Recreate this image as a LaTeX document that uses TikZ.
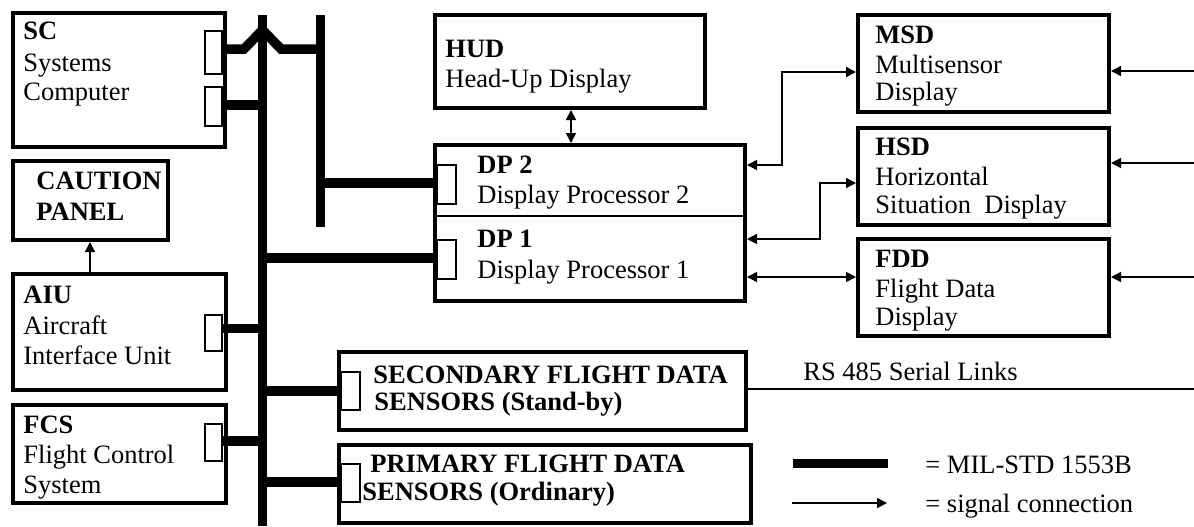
\documentclass[tikz,border=0pt]{standalone}
\usepackage{fontspec}
\setmainfont{Liberation Serif}
\usetikzlibrary{arrows.meta,fit,calc}
\begin{document}
\begin{tikzpicture}[x=0.5pt,y=-0.5pt,
  box/.style={draw, line width=2pt, inner sep=0pt, rectangle},
  port/.style={draw, line width=0.7pt, inner sep=0pt, rectangle},
  bus/.style={line width=4.75pt},
  thin/.style={line width=0.75pt},
  sig/.style={thin, -{Triangle[length=5pt,width=5pt]}},
  sigb/.style={thin, {Triangle[length=5pt,width=5pt]}-{Triangle[length=5pt,width=5pt]}},
  txt/.style={anchor=base west, inner sep=0pt, font=\fontsize{13.25pt}{15pt}\selectfont},
  btxt/.style={anchor=base west, inner sep=0pt, font=\fontsize{13.25pt}{15pt}\selectfont\bfseries}]
\useasboundingbox (0,0) rectangle (1194,526);

% boxes
\node[box, fit={(13,13) (225,147)}] (sc) {};
\node[box, fit={(13,161) (168,240)}] (caution) {};
\node[box, fit={(13,274) (226,390)}] (aiu) {};
\node[box, fit={(13,405) (226,503)}] (fcs) {};
\node[box, fit={(435,15) (705,108)}] (hud) {};
\node[box, fit={(435,145) (745,301)}] (dp) {};
\node[box, fit={(858,15) (1109,112)}] (msd) {};
\node[box, fit={(858,128) (1109,225)}] (hsd) {};
\node[box, fit={(858,239) (1109,336)}] (fdd) {};
\node[box, fit={(339,352) (746,430)}] (sec) {};
\node[box, fit={(339,445) (751,523)}] (pri) {};

% DP divider
\coordinate (dv) at (600,216);
\draw[thin] (dp.west |- dv) -- (dp.east |- dv);

% ports
\node[port, fit={(205,31) (222,74)}] (scp1) {};
\node[port, fit={(205,87) (222,126)}] (scp2) {};
\node[port, fit={(205,315) (222,351)}] (aiup) {};
\node[port, fit={(205,424) (222,461)}] (fcsp) {};
\node[port, fit={(437,165) (456,204)}] (dpp2) {};
\node[port, fit={(437,240) (456,279)}] (dpp1) {};
\node[port, fit={(341,372) (360,410)}] (secp) {};
\node[port, fit={(341,464) (360,502)}] (prip) {};

% buses
\coordinate (busT) at (262.5,15);
\coordinate (busB) at (262.5,526);
\coordinate (bus2T) at (320.5,15);
\coordinate (bus2B) at (320.5,227);
\draw[bus] (busT) -- (busB);
\draw[bus] (bus2T) -- (bus2B);

\coordinate (ca1) at (244,49);
\coordinate (ca2) at (262.5,30);
\coordinate (ca3) at (281,49);
\draw[bus, line join=miter] (scp1.east |- ca1) -- (ca1) -- (ca2) -- (ca3) -- (bus2T |- ca3);

\coordinate (jsc2) at (262.5,105);
\draw[bus] (scp2.east |- jsc2) -- (jsc2);
\coordinate (jaiu) at (262.5,328.5);
\draw[bus] (aiup.east |- jaiu) -- (jaiu);
\coordinate (jfcs) at (262.5,441);
\draw[bus] (fcsp.east |- jfcs) -- (jfcs);
\coordinate (jdp2) at (320.5,183);
\draw[bus] (jdp2) -- (dpp2.west |- jdp2);
\coordinate (jdp1) at (262.5,258);
\draw[bus] (jdp1) -- (dpp1.west |- jdp1);
\coordinate (jsec) at (262.5,391);
\draw[bus] (jsec) -- (secp.west |- jsec);
\coordinate (jpri) at (262.5,482);
\draw[bus] (jpri) -- (prip.west |- jpri);

% signal connections
\coordinate (cax) at (90,0);
\draw[sig] (aiu.north -| cax) -- (caution.south -| cax);
\coordinate (hdx) at (571,0);
\draw[sigb] (hud.south -| hdx) -- (dp.north -| hdx);
\coordinate (m1) at (782,165);
\coordinate (m2) at (782,72);
\draw[sigb] (dp.east |- m1) -- (m1) -- (m2) -- (msd.west |- m2);
\coordinate (h1) at (820,239);
\coordinate (h2) at (820,183);
\draw[sigb] (dp.east |- h1) -- (h1) -- (h2) -- (hsd.west |- h2);
\coordinate (f1) at (800,277);
\draw[sigb] (dp.east |- f1) -- (fdd.west |- f1);

\coordinate (rm) at (1194,71);
\coordinate (rh) at (1194,163);
\coordinate (rf) at (1194,277);
\draw[sig] (rm) -- (msd.east |- rm);
\draw[sig] (rh) -- (hsd.east |- rh);
\draw[sig] (rf) -- (fdd.east |- rf);

\coordinate (rs) at (1194,389);
\draw[thin] (sec.east |- rs) -- (rs);

% legend
\coordinate (lg1) at (793,463.5);
\coordinate (lg2) at (888,463.5);
\draw[line width=4.5pt] (lg1) -- (lg2);
\coordinate (lg3) at (792,503);
\coordinate (lg4) at (887,503);
\draw[sig] (lg3) -- (lg4);

% texts
\node[btxt] (t-sc1) at (23,39) {SC};
\node[txt] (t-sc2) at (23,71) {Systems};
\node[txt] (t-sc3) at (23,100) {Computer};
\node[btxt] (t-ca1) at (36,189) {CAUTION};
\node[btxt] (t-ca2) at (36,220) {PANEL};
\node[btxt] (t-aiu1) at (23,303) {AIU};
\node[txt] (t-aiu2) at (23,334) {Aircraft};
\node[txt] (t-aiu3) at (23,364) {Interface Unit};
\node[btxt] (t-fcs1) at (23,433) {FCS};
\node[txt] (t-fcs2) at (23,463) {Flight Control};
\node[txt] (t-fcs3) at (23,493) {System};
\node[btxt] (t-hud1) at (445,57) {HUD};
\node[txt] (t-hud2) at (445,87) {Head-Up Display};
\node[btxt] (t-dp21) at (477,173) {DP 2};
\node[txt] (t-dp22) at (477,203) {Display Processor 2};
\node[btxt] (t-dp11) at (477,247) {DP 1};
\node[txt] (t-dp12) at (477,278) {Display Processor 1};
\node[btxt] (t-msd1) at (875,43) {MSD};
\node[txt] (t-msd2) at (875,73) {Multisensor};
\node[txt] (t-msd3) at (875,100) {Display};
\node[btxt] (t-hsd1) at (875,155) {HSD};
\node[txt] (t-hsd2) at (875,185) {Horizontal};
\node[txt] (t-hsd3) at (875,213) {Situation\ \ Display};
\node[btxt] (t-fdd1) at (875,267) {FDD};
\node[txt] (t-fdd2) at (875,297) {Flight Data};
\node[txt] (t-fdd3) at (875,325) {Display};
\node[btxt] (t-sec1) at (373,383) {SECONDARY FLIGHT DATA};
\node[btxt] (t-sec2) at (374,410) {SENSORS (Stand-by)};
\node[btxt] (t-pri1) at (370,472) {PRIMARY FLIGHT DATA};
\node[btxt] (t-pri2) at (362,500) {SENSORS (Ordinary)};
\node[txt] (t-rs) at (803,380) {RS 485 Serial Links};
\node[txt] (t-lg1) at (925,473) {= MIL-STD 1553B};
\node[txt] (t-lg2) at (925,512) {= signal connection};
\end{tikzpicture}
\end{document}
